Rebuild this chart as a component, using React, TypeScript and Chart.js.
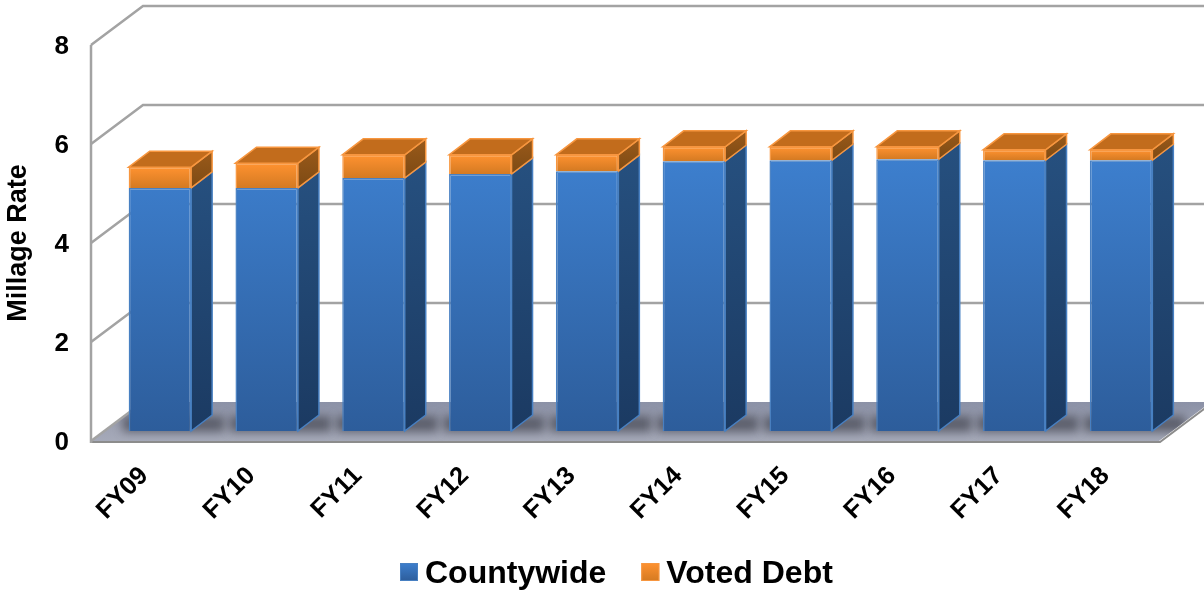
import React, { useEffect, useRef } from "react";
import { Chart, registerables } from "chart.js";

Chart.register(...registerables);

const fiscalYears = ["FY09", "FY10", "FY11", "FY12", "FY13", "FY14", "FY15", "FY16", "FY17", "FY18"];
const countywide = [4.91, 4.91, 5.11, 5.19, 5.25, 5.45, 5.47, 5.49, 5.47, 5.47];
const votedDebt = [0.42, 0.5, 0.47, 0.39, 0.33, 0.29, 0.27, 0.25, 0.21, 0.21];

const FONT = "'Liberation Sans', Arial, sans-serif";
// Projection of the box the plot sits in, and of each column inside it.
const WALL_DX = 52;
const WALL_DY = 39;
const BAR_SHIFT_X = 15.5;
const BAR_SHIFT_Y = 10;
const BAR_DX = 21;
const BAR_DY = 16;
const WALL_COLOR = "#a3a3a3";

const barPalette = [
  { top: "#3d7fce", bottom: "#2d5d9b", edge: "#4880c2", sideTop: "#26507f", sideBottom: "#1b3a62", cap: "#26507f" },
  { top: "#ff9230", bottom: "#d47a22", edge: "#f7963f", sideTop: "#9a5a1a", sideBottom: "#7d4a14", cap: "#c26c1c" },
];

function polygon(ctx: CanvasRenderingContext2D, pts: number[][]) {
  ctx.beginPath();
  pts.forEach(([x, y], i) => (i ? ctx.lineTo(x, y) : ctx.moveTo(x, y)));
  ctx.closePath();
}

function verticalGradient(chart: any, from: number, to: number, pal: { top: string; bottom: string }) {
  const y = chart.scales.y;
  const a = y ? y.getPixelForValue(from) : NaN;
  const b = y ? y.getPixelForValue(to) : NaN;
  if (!Number.isFinite(a) || !Number.isFinite(b)) return pal.top;
  const g = chart.ctx.createLinearGradient(0, a, 0, b);
  g.addColorStop(0, pal.top);
  g.addColorStop(1, pal.bottom);
  return g;
}

const boxPlugin = {
  id: "box3d",
  beforeDatasetsDraw(chart: any) {
    const { ctx, chartArea, scales } = chart;
    const y = scales.y;
    const { left, right } = chartArea;
    const y0 = y.getPixelForValue(0);

    // Floor with the soft shadow under every column
    ctx.save();
    polygon(ctx, [[left, y0], [right, y0], [right + WALL_DX, y0 - WALL_DY], [left + WALL_DX, y0 - WALL_DY]]);
    const floor = ctx.createLinearGradient(0, y0 - WALL_DY, 0, y0);
    floor.addColorStop(0, "#8b91a6");
    floor.addColorStop(0.7, "#a0a4b4");
    floor.addColorStop(1, "#a6aab9");
    ctx.fillStyle = floor;
    ctx.fill();
    ctx.clip();
    ctx.filter = "blur(5px)";
    ctx.fillStyle = "rgba(50,52,62,0.6)";
    chart.getDatasetMeta(0).data.forEach((bar: any) => {
      const l = bar.x - bar.width / 2 + BAR_SHIFT_X - 6;
      const r = bar.x + bar.width / 2 + BAR_SHIFT_X + BAR_DX + 12;
      const b = bar.base - BAR_SHIFT_Y + 1;
      ctx.fillRect(l, b - BAR_DY, r - l, BAR_DY);
    });
    ctx.restore();

    // Front edge of the floor
    ctx.save();
    ctx.strokeStyle = "#8c8c8c";
    ctx.lineWidth = 2;
    ctx.beginPath();
    ctx.moveTo(left, y0 + 1);
    ctx.lineTo(right + 1, y0 + 1);
    ctx.lineTo(right + WALL_DX + 1, y0 - WALL_DY + 1);
    ctx.stroke();

    // Side wall diagonals and back wall gridlines
    ctx.strokeStyle = WALL_COLOR;
    ctx.lineWidth = 2.5;
    y.ticks.forEach((t: any) => {
      const py = y.getPixelForValue(t.value);
      ctx.beginPath();
      ctx.moveTo(left, py);
      ctx.lineTo(left + WALL_DX, py - WALL_DY);
      if (t.value !== 0) ctx.lineTo(right + WALL_DX, py - WALL_DY);
      ctx.stroke();
    });
    ctx.beginPath();
    ctx.moveTo(left, y.getPixelForValue(8));
    ctx.lineTo(left, y0 + 2);
    ctx.stroke();
    ctx.restore();

    // Columns sit a little behind the front plane of the box
    ctx.save();
    ctx.translate(BAR_SHIFT_X, -BAR_SHIFT_Y);
    const lastSet = chart.data.datasets.length - 1;
    chart.data.datasets.forEach((_: any, di: number) => {
      const pal = barPalette[di];
      chart.getDatasetMeta(di).data.forEach((bar: any) => {
        const r = bar.x + bar.width / 2;
        const l = bar.x - bar.width / 2;
        const side = ctx.createLinearGradient(0, bar.y - BAR_DY, 0, bar.base);
        side.addColorStop(0, pal.sideTop);
        side.addColorStop(1, pal.sideBottom);
        polygon(ctx, [[r, bar.y], [r + BAR_DX, bar.y - BAR_DY], [r + BAR_DX, bar.base - BAR_DY], [r, bar.base]]);
        ctx.fillStyle = side;
        ctx.fill();
        ctx.strokeStyle = pal.edge;
        ctx.lineWidth = 1.5;
        ctx.stroke();
        if (di === lastSet) {
          polygon(ctx, [[l, bar.y], [l + BAR_DX, bar.y - BAR_DY], [r + BAR_DX, bar.y - BAR_DY], [r, bar.y]]);
          ctx.fillStyle = pal.cap;
          ctx.fill();
          ctx.stroke();
        }
      });
    });
  },
  afterDatasetsDraw(chart: any) {
    chart.ctx.restore();
  },
  afterDraw(chart: any) {
    // Legend row under the category labels
    const { ctx } = chart;
    ctx.save();
    ctx.font = `bold 32px ${FONT}`;
    ctx.textBaseline = "middle";
    ctx.textAlign = "left";
    let x = 400;
    const cy = 572;
    chart.data.datasets.forEach((ds: any, di: number) => {
      const pal = barPalette[di];
      const g = ctx.createLinearGradient(0, cy - 9, 0, cy + 9);
      g.addColorStop(0, pal.top);
      g.addColorStop(1, pal.bottom);
      ctx.fillStyle = g;
      ctx.fillRect(x, cy - 9, 18, 18);
      ctx.strokeStyle = pal.edge;
      ctx.lineWidth = 1;
      ctx.strokeRect(x + 0.5, cy - 8.5, 17, 17);
      ctx.fillStyle = "#000";
      ctx.fillText(ds.label, x + 25, cy + 2);
      x += 25 + ctx.measureText(ds.label).width + 35;
    });
    ctx.restore();
  },
};

export default function App() {
  const ref = useRef<HTMLCanvasElement>(null);

  useEffect(() => {
    const chart = new Chart(ref.current as HTMLCanvasElement, {
      type: "bar",
      data: {
        labels: fiscalYears,
        datasets: [
          {
            label: "Countywide",
            data: countywide,
            clip: false,
            borderWidth: 1.5,
            borderColor: barPalette[0].edge,
            backgroundColor: (c: any) => verticalGradient(c.chart, 5.5, 0, barPalette[0]),
          },
          {
            label: "Voted Debt",
            data: votedDebt,
            clip: false,
            borderWidth: 1.5,
            borderColor: barPalette[1].edge,
            backgroundColor: (c: any) => {
              if (c.dataIndex === undefined) return barPalette[1].top;
              const low = countywide[c.dataIndex];
              return verticalGradient(c.chart, low + votedDebt[c.dataIndex], low, barPalette[1]);
            },
          },
        ],
      },
      options: {
        responsive: false,
        animation: false,
        layout: { padding: { top: 45, right: 45, bottom: 0, left: 0 } },
        datasets: { bar: { categoryPercentage: 1, barPercentage: 0.585 } },
        plugins: { legend: { display: false }, tooltip: { enabled: false } },
        scales: {
          x: {
            stacked: true,
            grid: { display: false, drawTicks: false },
            border: { display: false },
            ticks: {
              color: "#000",
              font: { family: FONT, size: 25.5, weight: "bold" },
              maxRotation: 45,
              minRotation: 45,
              padding: 20,
            },
            afterFit: (s: any) => {
              s.height = 152;
            },
          },
          y: {
            stacked: true,
            min: 0,
            max: 8,
            grid: { display: false, drawTicks: false },
            border: { display: false },
            title: {
              display: true,
              text: "Millage Rate",
              color: "#000",
              font: { family: FONT, size: 27, weight: "bold" },
              padding: { top: 2, bottom: 0 },
            },
            ticks: {
              stepSize: 2,
              color: "#000",
              font: { family: FONT, size: 26, weight: "bold" },
              padding: 22,
              labelOffset: 2,
            },
            afterFit: (s: any) => {
              s.width = 91;
            },
          },
        },
      },
      plugins: [boxPlugin],
    } as any);
    return () => chart.destroy();
  }, []);

  return (
    <div style={{ position: "fixed", left: 0, top: 0, width: 1204, height: 593, background: "#fff" }}>
      <canvas ref={ref} width={1204} height={593} style={{ display: "block" }} />
    </div>
  );
}
